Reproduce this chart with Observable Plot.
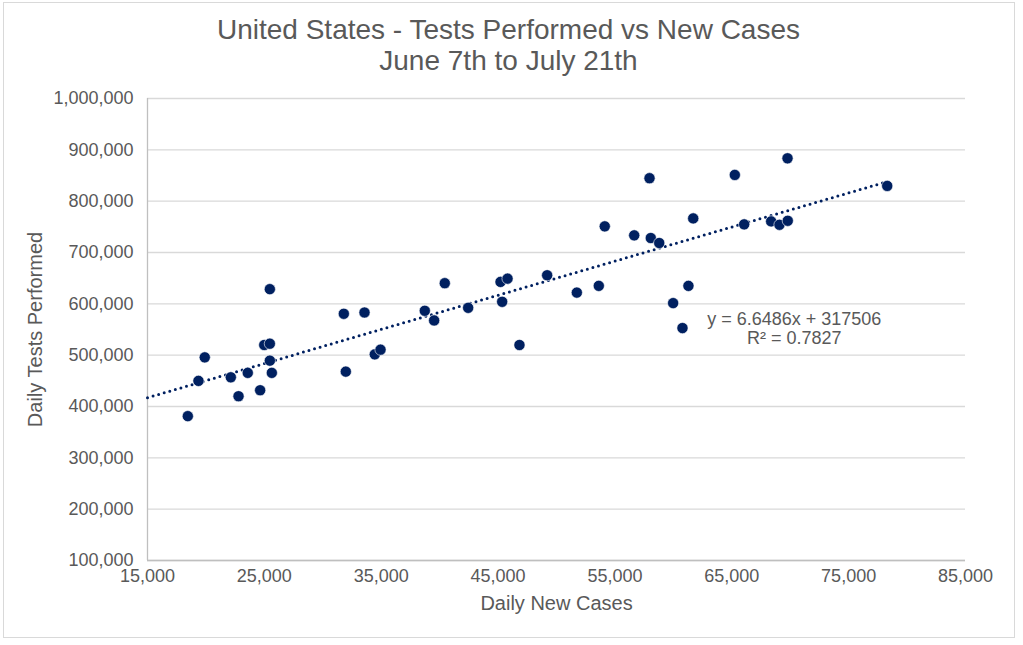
<!DOCTYPE html>
<html>
<head>
<meta charset="utf-8">
<script src="https://cdn.jsdelivr.net/npm/d3@7"></script>
<script src="https://cdn.jsdelivr.net/npm/@observablehq/plot@0.6"></script>
<style>
  html, body { margin: 0; padding: 0; background: #fff; }
  #wrap { position: relative; width: 1023px; height: 645px; overflow: hidden; font-family: "Liberation Sans", Arial, sans-serif; }
  #frame { position: absolute; left: 3px; top: 2px; width: 1012px; height: 636px; border: 1.5px solid #d9d9d9; box-sizing: border-box; }
  #title { position: absolute; left: -3px; top: 14px; width: 1023px; text-align: center; color: #595959; font-size: 28px; line-height: 31px; }
  #chart { position: absolute; left: 0; top: 80px; }
</style>
</head>
<body>
<div id="wrap">
  <div id="frame"></div>
  <div id="title"></div>
  <div id="chart"></div>
</div>
<script>
const titleText = "United States - Tests Performed vs New Cases";
const subtitleText = "June 7th to July 21th";
const xLabel = "Daily New Cases";
const yLabel = "Daily Tests Performed";

const newCases = [
  25470, 19900, 19360, 18450, 24990, 25470, 25470, 25640, 22130, 23580, 22790, 24640,
  31800, 33570, 34450, 34940, 31970, 38730, 39530, 40440, 42440, 45210, 45810, 45350,
  46830, 49200, 54130, 57960, 56650, 58070, 58790, 61700, 65260, 66060, 51740, 53620,
  61290, 59980, 60780, 69770, 78300, 68370, 69080, 69790
];
const testsPerformed = [
  628600, 495700, 449900, 381200, 519800, 522300, 489300, 465500, 456900, 465500, 420000, 431700,
  580600, 583100, 501600, 510700, 467900, 586400, 567600, 640200, 592200, 642700, 649100, 603900,
  519800, 655700, 750900, 844700, 733400, 728200, 718500, 766400, 851100, 754800, 621900, 635000,
  635000, 601400, 552800, 883500, 829700, 760600, 754000, 761800
];

const xTicks = [15000, 25000, 35000, 45000, 55000, 65000, 75000, 85000];
const yTicks = [100000, 200000, 300000, 400000, 500000, 600000, 700000, 800000, 900000, 1000000];

const trendSlope = 6.6486;
const trendIntercept = 317506;
const rSquared = 0.7827;
const equationLines = [`y = ${trendSlope}x + ${trendIntercept}`, `R² = ${rSquared}`];
const equationAnchor = {x: 70350, y: 551500};

document.getElementById("title").innerHTML = `${titleText}<br>${subtitleText}`;

const points = newCases.map((c, i) => ({cases: c, tests: testsPerformed[i]}));
const trendX = [xTicks[0], d3.max(newCases)];
const trend = trendX.map(x => ({cases: x, tests: trendSlope * x + trendIntercept}));

const fmt = d3.format(",");
const gray = "#595959";
const navy = "#002060";

const plot = Plot.plot({
  width: 1023,
  height: 565,
  marginLeft: 147,
  marginRight: 58,
  marginTop: 18,
  marginBottom: 85,
  style: {fontFamily: "'Liberation Sans', Arial, sans-serif", fontSize: "18px", color: gray, background: "transparent", overflow: "visible"},
  x: {domain: [xTicks[0], xTicks[xTicks.length - 1]]},
  y: {domain: [yTicks[0], yTicks[yTicks.length - 1]]},
  marks: [
    Plot.gridY(yTicks, {stroke: "#d9d9d9", strokeOpacity: 1, strokeWidth: 1.3}),
    Plot.ruleX([xTicks[0]], {stroke: "#bfbfbf", strokeWidth: 1.3}),
    Plot.ruleY([yTicks[0]], {stroke: "#bfbfbf", strokeWidth: 1.3}),
    Plot.axisX(xTicks, {tickSize: 0, tickPadding: 9, tickFormat: fmt, label: null, fill: gray}),
    Plot.axisY(yTicks, {tickSize: 0, tickPadding: 14, tickFormat: fmt, label: null, fill: gray}),
    Plot.text([xLabel], {frameAnchor: "bottom", dy: 43, textAnchor: "middle", lineAnchor: "middle", fill: gray, fontSize: 20}),
    Plot.text([yLabel], {frameAnchor: "left", dx: -112, rotate: -90, textAnchor: "middle", lineAnchor: "middle", fill: gray, fontSize: 20}),
    Plot.line(trend, {x: "cases", y: "tests", stroke: navy, strokeWidth: 3, strokeLinecap: "round", strokeDasharray: "0 5.8"}),
    Plot.dot(points, {x: "cases", y: "tests", r: 5.6, fill: navy, stroke: "white", strokeWidth: 0.6}),
    Plot.text([equationLines.join("\n")], {x: () => equationAnchor.x, y: () => equationAnchor.y, textAnchor: "middle", lineAnchor: "middle", lineHeight: 1.03, fill: gray, fontSize: 18})
  ]
});
document.getElementById("chart").appendChild(plot);
</script>
</body>
</html>
